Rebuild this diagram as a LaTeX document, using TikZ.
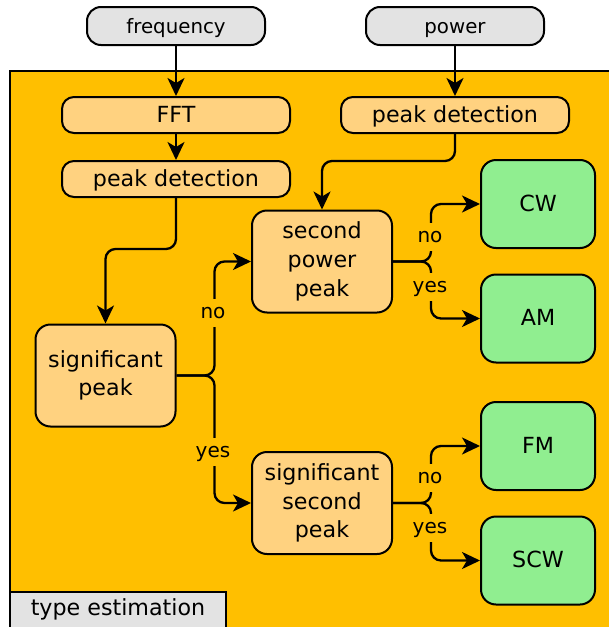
\documentclass[tikz,border=0pt]{standalone}
\usepackage{fontspec}
\setmainfont{DejaVu Sans}
\usetikzlibrary{arrows.meta}
\definecolor{amber}{RGB}{255,191,0}
\definecolor{procfill}{RGB}{255,210,128}
\definecolor{termfill}{RGB}{144,238,144}
\definecolor{iofill}{RGB}{227,227,227}

\begin{document}
\begin{tikzpicture}[x=1pt,y=-1pt,
  base/.style={draw=black, line width=2pt, align=center, inner sep=0pt,
    font=\fontsize{22.2}{28.7}\selectfont},
  oneline/.style={text height=16pt, text depth=1.6pt},
  io/.style={base, oneline, fill=iofill, rounded corners=14pt, minimum width=178pt,
    minimum height=38pt, font=\fontsize{19.8}{24}\selectfont},
  proc/.style={base, fill=procfill, rounded corners=12pt},
  wide/.style={proc, oneline, minimum width=228pt, minimum height=36pt},
  decision/.style={proc, rounded corners=15pt, minimum width=140pt, minimum height=102pt},
  result/.style={base, oneline, fill=termfill, rounded corners=15pt, minimum width=114pt,
    minimum height=88pt},
  flow/.style={line width=2.3pt, rounded corners=10pt,
    -{Stealth[length=18pt,width=17pt,inset=5pt]}},
  lbl/.style={fill=amber, inner xsep=2pt, inner ysep=5.5pt, text height=14pt,
    text depth=3pt, font=\fontsize{20}{24}\selectfont},
]
% page and the estimation block
\clip (0,0) rectangle (609,627);
\fill[white] (0,0) rectangle (609,627);
\draw[line width=2pt, fill=amber] (10,71) rectangle (660,680);
\draw[line width=2pt, fill=iofill] (10,592) rectangle (226,680);
\node[oneline, inner sep=0pt, font=\fontsize{22.2}{28.7}\selectfont] (tlabel) at (118,608) {type estimation};

% inputs
\node[io] (freq) at (176,26) {frequency};
\node[io] (power) at (455,26) {power};

% processing steps
\node[wide] (fft) at (176,115) {FFT};
\node[wide] (pdl) at (176,179) {peak detection};
\node[wide] (pdr) at (455,115) {peak detection};

% decisions
\node[decision] (spp) at (322,261.5) {second\\power\\peak};
\node[decision] (sigpeak) at (105.5,375.5) {significant\\peak};
\node[decision] (ssp) at (322,503) {significant\\second\\peak};

% results
\node[result] (cw) at (538,204) {CW};
\node[result] (am) at (538,318.5) {AM};
\node[result] (fm) at (538,446) {FM};
\node[result] (scw) at (538,560.5) {SCW};

% connectors
\draw[flow] (freq.south) -- (fft.north);
\draw[flow] (power.south) -- (pdr.north);
\draw[flow] (fft.south) -- (pdl.north);
\draw[flow] (pdl.south) -- ++(0,51) -| (sigpeak.north);
\draw[flow] (pdr.south) -- ++(0,27) -| (spp.north);

\draw[flow] (sigpeak.east) -- ++(38,0) |- (spp.west);
\draw[flow] (sigpeak.east) -- ++(38,0) |- (ssp.west);
\draw[flow] (spp.east) -- ++(38,0) |- (cw.west);
\draw[flow] (spp.east) -- ++(38,0) |- (am.west);
\draw[flow] (ssp.east) -- ++(38,0) |- (fm.west);
\draw[flow] (ssp.east) -- ++(38,0) |- (scw.west);

% branch labels
\node[lbl] (l1) at (213,312.5) {no};
\node[lbl] (l2) at (213,451.5) {yes};
\node[lbl] (l3) at (430,236.5) {no};
\node[lbl] (l4) at (430,286.7) {yes};
\node[lbl] (l5) at (430,477.5) {no};
\node[lbl] (l6) at (430,527.5) {yes};
\end{tikzpicture}
\end{document}
